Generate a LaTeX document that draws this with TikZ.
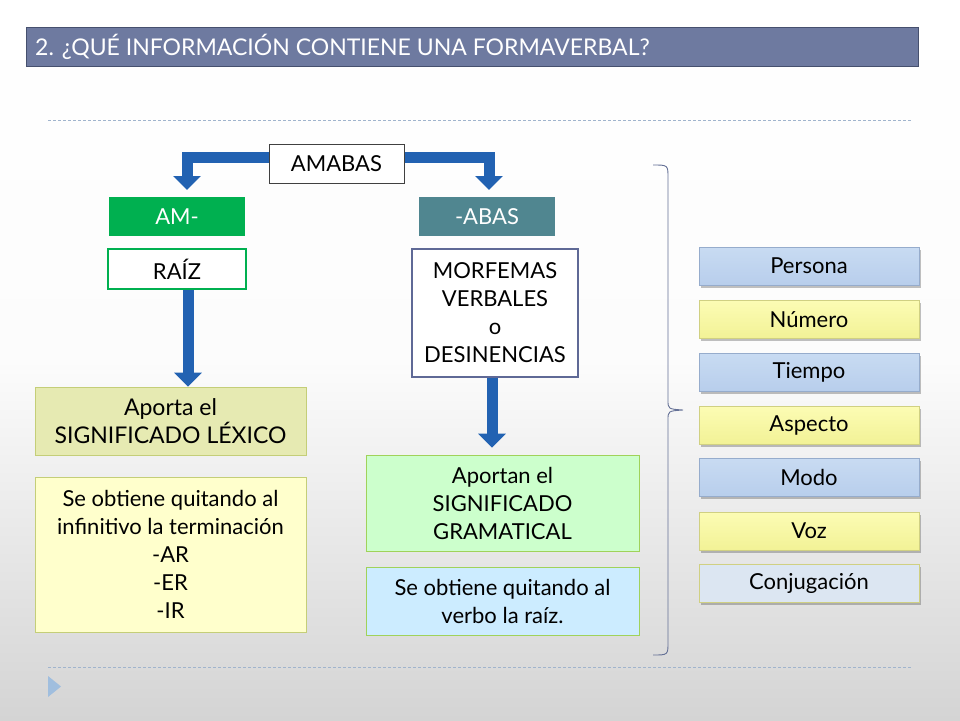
\documentclass[tikz,border=0pt]{standalone}
\usepackage{fontspec}
\setmainfont{Lato}
\usetikzlibrary{arrows.meta,calc,shadows}
\definecolor{titlefill}{RGB}{110,122,160}
\definecolor{titledraw}{RGB}{70,80,110}
\definecolor{dashc}{RGB}{160,180,205}
\definecolor{arrowblue}{RGB}{34,98,178}
\definecolor{amgreen}{RGB}{0,176,80}
\definecolor{abasteal}{RGB}{80,134,144}
\definecolor{morfdraw}{RGB}{95,105,150}
\definecolor{olivefill}{RGB}{230,234,178}
\definecolor{olivedraw}{RGB}{196,206,120}
\definecolor{yelfill}{RGB}{255,255,204}
\definecolor{grfill}{RGB}{204,255,204}
\definecolor{grdraw}{RGB}{160,210,90}
\definecolor{bluefill}{RGB}{204,236,255}
\definecolor{bluetop}{RGB}{200,219,242}
\definecolor{bluebot}{RGB}{184,206,236}
\definecolor{bluedraw}{RGB}{150,172,204}
\definecolor{yeltop}{RGB}{252,252,180}
\definecolor{yelbot}{RGB}{242,242,150}
\definecolor{yeldraw}{RGB}{208,208,130}
\definecolor{conjfill}{RGB}{220,230,242}
\definecolor{bracec}{RGB}{100,112,150}
\definecolor{marker}{RGB}{160,190,222}
\definecolor{bgbot}{RGB}{212,212,212}
\tikzset{
  base/.style={rectangle, inner sep=0pt, align=center, font=\fontsize{22}{28}\selectfont, text=black},
  plainbox/.style={base, fill=white, draw=#1, line width=1.3pt},
  colbox/.style={base, fill=#1, draw=none, text=white},
  infobox/.style 2 args={base, fill=#1, draw=#2, line width=0.8pt},
  sidebox/.style 2 args={base, top color=#1, bottom color=#2, minimum width=220pt, minimum height=38pt,
     drop shadow={shadow xshift=1.5pt, shadow yshift=-2.5pt, opacity=0.35, fill=black!70}},
  fatarrow/.style={draw=arrowblue, line width=11pt, -{Triangle[width=27pt,length=14pt]}},
  sep/.style={draw=dashc, line width=0.8pt, dash pattern=on 3pt off 2pt},
}
\begin{document}
\begin{tikzpicture}[x=1pt,y=-1pt]
\useasboundingbox (0,0) rectangle (960,720);
\fill[top color=white, bottom color=bgbot, middle color=white!93!bgbot] (0,0) rectangle (960,720);
% title
\node[base, fill=titlefill, draw=titledraw, line width=1pt, minimum width=892pt, minimum height=39pt] (title) at (472,46.5) {};
\node[anchor=west, inner sep=0pt, text=white, font=\fontsize{23}{28}\selectfont] (titletext) at (35,47) {2. ¿QUÉ INFORMACIÓN CONTIENE UNA FORMAVERBAL?};
% separators
\coordinate (s1a) at (48,120); \coordinate (s1b) at (912,120);
\coordinate (s2a) at (48,667); \coordinate (s2b) at (912,667);
\draw[sep] (s1a) -- (s1b);
\draw[sep] (s2a) -- (s2b);
\fill[marker] (48,676) -- (48,697) -- (61,686.5) -- cycle;
% nodes
\node[plainbox={black!75}, line width=1pt, minimum width=135pt, minimum height=39pt] (amabas) at (336.5,163.5) {AMABAS};
\node[colbox=amgreen, minimum width=136pt, minimum height=39pt] (am) at (177,216.5) {AM-};
\node[colbox=abasteal, minimum width=136pt, minimum height=39pt] (abas) at (487,216.5) {-ABAS};
\node[plainbox=amgreen, minimum width=138pt, minimum height=40pt] (raiz) at (177,269) {RAÍZ};
\node[plainbox=morfdraw, minimum width=166pt, minimum height=128pt] (morf) at (495,313) {MORFEMAS\\VERBALES\\o\\DESINENCIAS};
\node[infobox={olivefill}{olivedraw}, minimum width=271pt, minimum height=68pt, font=\fontsize{23}{28}\selectfont] (aporta) at (170.5,421) {Aporta el\\ SIGNIFICADO LÉXICO};
\node[infobox={yelfill}{olivedraw}, minimum width=271pt, minimum height=155pt] (seob1) at (170.5,554.5) {Se obtiene quitando al\\infinitivo la terminación\\-AR\\-ER\\-IR};
\node[infobox={grfill}{grdraw}, minimum width=273pt, minimum height=96pt] (aportan) at (502.5,503) {Aportan el\\SIGNIFICADO\\GRAMATICAL};
\node[infobox={bluefill}{grdraw}, minimum width=273pt, minimum height=68pt] (seob2) at (502.5,601) {Se obtiene quitando al\\verbo la raíz.};
% side boxes
\node[sidebox={bluetop}{bluebot}, draw=bluedraw, line width=0.6pt] (persona) at (809,266) {Persona};
\node[sidebox={yeltop}{yelbot}, draw=yeldraw, line width=0.6pt] (numero) at (809,319.5) {Número};
\node[sidebox={bluetop}{bluebot}, draw=bluedraw, line width=0.6pt] (tiempo) at (809,372) {Tiempo};
\node[sidebox={yeltop}{yelbot}, draw=yeldraw, line width=0.6pt] (aspecto) at (809,425) {Aspecto};
\node[sidebox={bluetop}{bluebot}, draw=bluedraw, line width=0.6pt] (modo) at (809,477.5) {Modo};
\node[sidebox={yeltop}{yelbot}, draw=yeldraw, line width=0.6pt] (voz) at (809,531) {Voz};
\node[sidebox={conjfill}{conjfill}, draw=yeldraw, line width=0.6pt] (conj) at (809,583.5) {Conjugación};
% arrows
\coordinate (lturn) at (187,157);
\coordinate (ltip) at (187,190);
\coordinate (rturn) at (489,157);
\coordinate (rtip) at (489,190);
\draw[fatarrow, line join=miter] ($(amabas.west)+(0,-6.5)$) -- (lturn) -- (ltip);
\draw[fatarrow, line join=miter] ($(amabas.east)+(0,-6.5)$) -- (rturn) -- (rtip);
\draw[fatarrow] ($(raiz.south)+(11,0)$) -- ($(aporta.north)+(17.5,0)$);
\draw[fatarrow] ($(morf.south)+(-3,0)$) -- ($(morf.south)+(-3,70)$);
% brace
\coordinate (bt) at (653,165);
\coordinate (bm) at (683,410);
\coordinate (bb) at (653,655);
\draw[bracec, line width=0.9pt] (bt) .. controls (668,165) .. (668,178) -- (668,400) .. controls (668,409) .. (bm) .. controls (668,411) .. (668,420) -- (668,642) .. controls (668,655) .. (bb);
\end{tikzpicture}
\end{document}
